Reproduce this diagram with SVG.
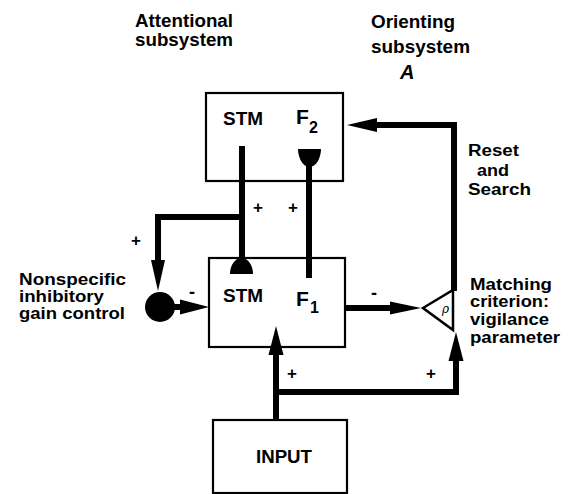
<svg xmlns="http://www.w3.org/2000/svg" width="568" height="494" viewBox="0 0 568 494">
<style>
text{font-family:"Liberation Sans",Arial,sans-serif;font-weight:bold;fill:#000;}
.lbl{font-size:18px;}
.st{font-size:16px;}
.pm{font-size:17px;}
.box{fill:#fff;stroke:#000;stroke-width:2.2;}
.wire{fill:none;stroke:#000;stroke-width:6;stroke-linejoin:miter;}
.head{fill:#000;stroke:none;}
</style>
<rect width="568" height="494" fill="#fff"/>
<g id="titles">
<text class="lbl" x="135" y="27" textLength="98" lengthAdjust="spacingAndGlyphs">Attentional</text>
<text class="lbl" x="135" y="46" textLength="98" lengthAdjust="spacingAndGlyphs">subsystem</text>
<text class="lbl" x="371" y="28" textLength="84" lengthAdjust="spacingAndGlyphs">Orienting</text>
<text class="lbl" x="371" y="53" textLength="99" lengthAdjust="spacingAndGlyphs">subsystem</text>
<text x="400" y="79" style="font-size:20px;font-style:italic">A</text>
</g>
<g id="F2">
<rect class="box" x="206" y="93" width="137" height="88"/>
<text class="lbl" x="223" y="125" textLength="40" lengthAdjust="spacingAndGlyphs">STM</text>
<text x="296" y="124" style="font-size:21px">F</text>
<text x="309" y="133" style="font-size:16px">2</text>
</g>
<g id="F1">
<rect class="box" x="209" y="258" width="136" height="89"/>
<text class="lbl" x="223" y="302" textLength="40" lengthAdjust="spacingAndGlyphs">STM</text>
<text x="296" y="306" style="font-size:21px">F</text>
<text x="310" y="313" style="font-size:16px">1</text>
</g>
<g id="input">
<rect class="box" x="213" y="420" width="134" height="73"/>
<text class="lbl" x="256" y="463" textLength="56" lengthAdjust="spacingAndGlyphs">INPUT</text>
</g>
<g id="gain-control">
<circle cx="160" cy="307" r="15" fill="#000"/>
<text class="st" x="19" y="285" textLength="107" lengthAdjust="spacingAndGlyphs">Nonspecific</text>
<text class="st" x="19" y="302" textLength="85" lengthAdjust="spacingAndGlyphs">inhibitory</text>
<text class="st" x="19" y="319" textLength="106" lengthAdjust="spacingAndGlyphs">gain control</text>
</g>
<g id="matching">
<path d="M423,308 L453,290 L453,330 Z" fill="#fff" stroke="#000" stroke-width="2.5" stroke-linejoin="miter"/>
<text x="442" y="313" style="font-size:12px;font-weight:normal;font-style:italic;font-family:'DejaVu Serif',serif">ρ</text>
<text class="st" x="470" y="290" textLength="82" lengthAdjust="spacingAndGlyphs">Matching</text>
<text class="st" x="470" y="307" textLength="79" lengthAdjust="spacingAndGlyphs">criterion:</text>
<text class="st" x="470" y="325" textLength="79" lengthAdjust="spacingAndGlyphs">vigilance</text>
<text class="st" x="470" y="343" textLength="90" lengthAdjust="spacingAndGlyphs">parameter</text>
</g>
<g id="reset-label">
<text class="st" x="468" y="156" textLength="51" lengthAdjust="spacingAndGlyphs">Reset</text>
<text class="st" x="477" y="176" textLength="32" lengthAdjust="spacingAndGlyphs">and</text>
<text class="st" x="468" y="195" textLength="63" lengthAdjust="spacingAndGlyphs">Search</text>
</g>
<g id="connectors">
<path class="wire" d="M242,146 V262"/>
<path d="M230,274 H253 C253,265 248,258 241.5,258 C235,258 230,265 230,274 Z" class="head"/>
<path class="wire" d="M242,217 H158 V262"/>
<path class="head" d="M151,260 L165,260 L158,291 Z"/>
<path class="wire" d="M309,278 V160"/>
<path class="head" d="M298,149 H321 C321,158 316,167 309.5,167 C303,167 298,158 298,149 Z"/>
<path class="wire" d="M172,307 H184"/>
<path class="head" d="M180,299.5 L209,307 L180,314.5 Z"/>
<path class="wire" d="M345,308 H392"/>
<path class="head" d="M390,301.5 L421,308 L390,314.5 Z"/>
<path class="wire" d="M454,291 V125 H372"/>
<path class="head" d="M377,118 L347,125 L377,132 Z"/>
<path class="wire" d="M276,420 V352"/>
<path class="head" d="M268.5,355 L276,326 L283.5,355 Z"/>
<path class="wire" d="M273,392 H456 V358"/>
<path class="head" d="M448.5,361 L456,332 L463.5,361 Z"/>
<text class="pm" x="131" y="246">+</text>
<text class="pm" x="253" y="213">+</text>
<text class="pm" x="288" y="213">+</text>
<text class="pm" x="287" y="379">+</text>
<text class="pm" x="426" y="379">+</text>
<text class="lbl" x="189" y="298">-</text>
<text class="lbl" x="371" y="299">-</text>
</g>
</svg>
